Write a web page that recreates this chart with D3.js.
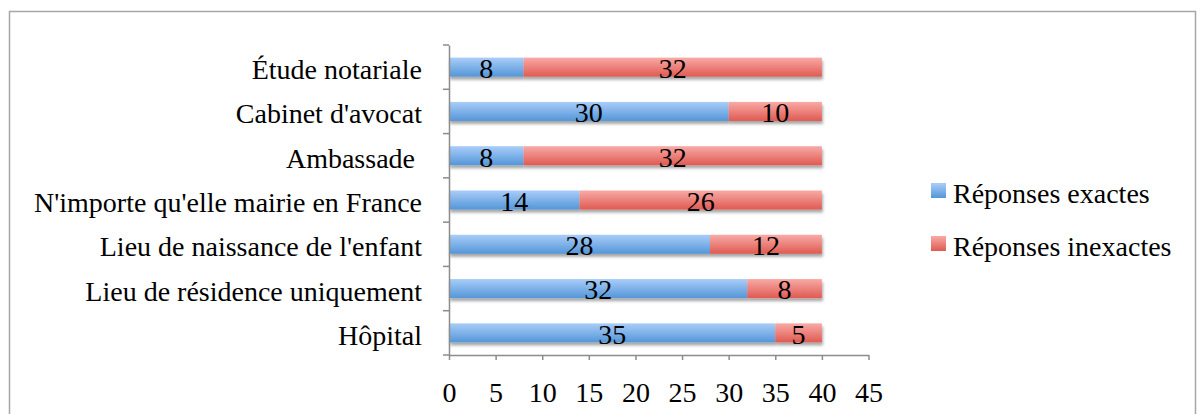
<!doctype html>
<meta charset="utf-8">
<style>
  body { margin: 0; background: #fff; }
  svg text { font-family: "Liberation Serif", serif; fill: #000; }
</style>
<body>
<div id="chart"></div>
<script src="https://d3js.org/d3.v7.min.js"></script>
<script>

const categories = [
  "Étude notariale",
  "Cabinet d'avocat",
  "Ambassade ",
  "N'importe qu'elle mairie en France",
  "Lieu de naissance de l'enfant",
  "Lieu de résidence uniquement",
  "Hôpital"
]
const exactes = [8, 30, 8, 14, 28, 32, 35]
const inexactes = [32, 10, 32, 26, 12, 8, 5]
const seriesNames = ["Réponses exactes", "Réponses inexactes"]
const xTicks = [0, 5, 10, 15, 20, 25, 30, 35, 40, 45]

function main () {
  const W = 1197, H = 414
  const plot = { left: 449, right: 868.5, top: 45, bottom: 355 }
  const fs = "28px"

  const svg = d3.select("#chart").append("svg")
    .attr("width", W)
    .attr("height", H)

  const defs = svg.append("defs")
  const grads = [
    { id: "gBlue", top: "#a9cdf9", bottom: "#5496d8" },
    { id: "gRed", top: "#f9aaa6", bottom: "#df5a52" }
  ]
  grads.forEach(g => {
    const lg = defs.append("linearGradient")
      .attr("id", g.id)
      .attr("x1", 0).attr("y1", 0).attr("x2", 0).attr("y2", 1)
    lg.append("stop").attr("offset", "0%").attr("stop-color", g.top)
    lg.append("stop").attr("offset", "100%").attr("stop-color", g.bottom)
  })
  defs.append("filter")
    .attr("id", "shadow")
    .attr("x", "-5%").attr("y", "-30%").attr("width", "110%").attr("height", "180%")
    .append("feDropShadow")
    .attr("dx", 1).attr("dy", 3).attr("stdDeviation", 1.5)
    .attr("flood-color", "#000").attr("flood-opacity", 0.35)

  // outer frame
  svg.append("rect")
    .attr("x", 9.5).attr("y", 11.5)
    .attr("width", W - 11).attr("height", H)
    .attr("fill", "none")
    .attr("stroke", "#a6a6a6")
    .attr("stroke-width", 1.5)

  const x = d3.scaleLinear()
    .domain([0, 45])
    .range([plot.left, plot.right])

  const y = d3.scaleBand()
    .domain(categories)
    .range([plot.top, plot.bottom])
    .paddingInner(0.57)
    .paddingOuter(0.285)

  const yb = d3.scaleBand()
    .domain(categories)
    .range([plot.top, plot.bottom])

  const rows = categories.map((c, i) => ({
    cat: c,
    segs: [
      { x0: 0, x1: exactes[i], v: exactes[i], fill: "url(#gBlue)" },
      { x0: exactes[i], x1: exactes[i] + inexactes[i], v: inexactes[i], fill: "url(#gRed)" }
    ]
  }))

  const bars = svg.append("g").selectAll("g")
    .data(rows)
    .enter()
    .append("g")

  bars.append("g")
    .attr("filter", "url(#shadow)")
    .selectAll("rect")
    .data(d => d.segs.map(s => Object.assign({ cat: d.cat }, s)))
    .enter()
    .append("rect")
    .attr("x", d => x(d.x0))
    .attr("width", d => x(d.x1) - x(d.x0))
    .attr("y", d => y(d.cat))
    .attr("height", y.bandwidth())
    .attr("fill", d => d.fill)

  bars.selectAll("text.val")
    .data(d => d.segs.map(s => Object.assign({ cat: d.cat }, s)))
    .enter()
    .append("text")
    .attr("class", "val")
    .attr("x", d => (x(d.x0) + x(d.x1)) / 2)
    .attr("y", d => y(d.cat) + y.bandwidth() / 2)
    .attr("dy", "0.39em")
    .attr("text-anchor", "middle")
    .style("font-size", fs)
    .text(d => d.v)

  // axes
  const xAxis = svg.append("g")
    .attr("transform", "translate(0," + plot.bottom + ")")
    .call(d3.axisBottom(x).tickValues(xTicks).tickSize(5).tickPadding(22).tickSizeOuter(0))
  xAxis.selectAll("text").style("font-size", fs).attr("fill", "#000")

  const yAxis = svg.append("g")
    .attr("transform", "translate(" + plot.left + ",0)")
    .call(d3.axisLeft(yb).tickSize(0).tickPadding(27))
  yAxis.selectAll("text")
    .style("font-size", fs)
    .style("white-space", "pre")
    .attr("dy", "0.43em")
    .attr("fill", "#000")
  // y ticks at category boundaries
  yAxis.selectAll(".bound")
    .data(d3.range(categories.length + 1))
    .enter()
    .append("line")
    .attr("class", "bound")
    .attr("x1", -6).attr("x2", 0)
    .attr("y1", i => plot.top + i * yb.step())
    .attr("y2", i => plot.top + i * yb.step())

  svg.selectAll(".domain, .tick line, .bound")
    .attr("stroke", "#8c8c8c")
    .attr("stroke-width", 1.5)

  // legend
  const legend = svg.append("g")
    .selectAll("g")
    .data(seriesNames)
    .enter()
    .append("g")
    .attr("transform", (d, i) => "translate(931," + (183 + i * 53) + ")")
  legend.append("rect")
    .attr("width", 15).attr("height", 15)
    .attr("fill", (d, i) => "url(#" + grads[i].id + ")")
  legend.append("text")
    .attr("x", 22).attr("y", 7.5)
    .attr("dy", "0.43em")
    .style("font-size", fs)
    .text(d => d)
}

main()

</script>
</body>
